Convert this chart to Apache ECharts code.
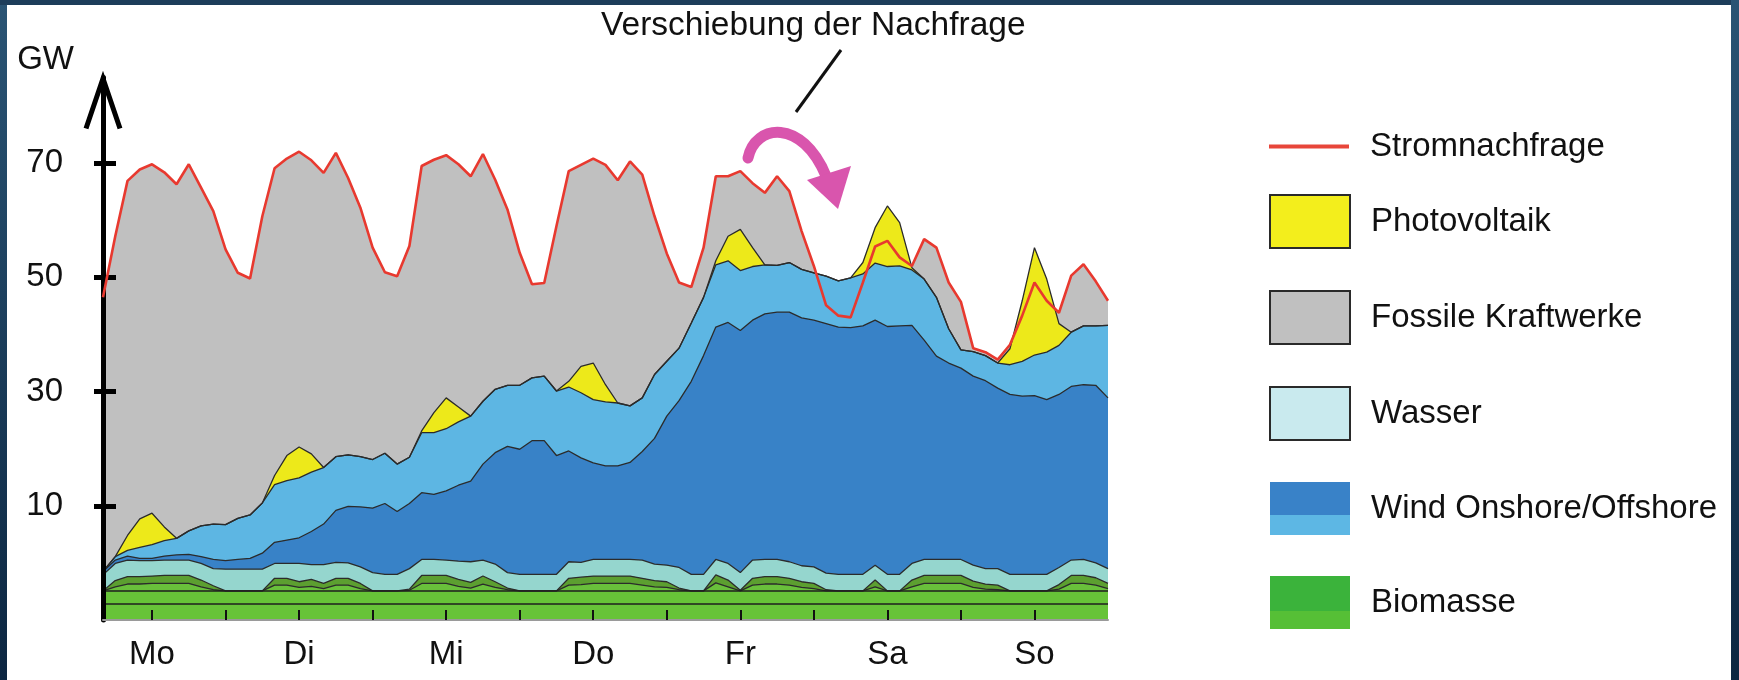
<!DOCTYPE html>
<html>
<head>
<meta charset="utf-8">
<script src="https://cdn.jsdelivr.net/npm/echarts@6/dist/echarts.min.js"></script>
<style>
html, body { margin: 0; padding: 0; background: #fff; }
#chart { width: 1739px; height: 680px; }
</style>
</head>
<body>
<div id="chart"></div>
<script>
// Stunden seit Montag 0 Uhr, 2-h-Raster
const hours = [4,6,8,10,12,14,16,18,20,22, 24,26,28,30,32,34,36,38,40,42,
  44,46,48,50,52,54,56,58,60,62, 64,66,68,70,72,74,76,78,80,82,
  84,86,88,90,92,94,96,98,100,102, 104,106,108,110,112,114,116,118,120,122,
  124,126,128,130,132,134,136,138,140,142, 144,146,148,150,152,154,156,158,160,162,
  164,166,168];
const days = ['Mo', 'Di', 'Mi', 'Do', 'Fr', 'Sa', 'So'];
const dayNoon = [12, 36, 60, 84, 108, 132, 156];
const halfDayTicks = [12,24,36,48,60,72,84,96,108,120,132,144,156];
const yTicks = [10, 30, 50, 70];

// Stromnachfrage (GW)
const demand = [46.5,57.2,66.9,68.9,69.8,68.4,66.3,69.8,65.7,61.6,
  54.9,50.8,49.8,60.7,69.1,70.8,72.0,70.5,68.3,71.8,
  67.4,62.2,55.2,50.9,50.2,55.5,69.5,70.6,71.4,69.8,
  67.7,71.6,67.1,61.9,54.3,48.8,49.0,59.0,68.6,69.7,
  70.8,69.7,67.0,70.3,68.0,60.7,54.2,49.1,48.3,55.2,
  67.7,67.7,68.6,66.5,64.8,67.7,65.1,58.1,52.0,45.1,
  43.3,43.0,49.1,55.4,56.4,53.5,52.0,56.7,55.2,49.1,
  45.7,37.6,36.9,35.6,38.2,43.3,49.1,45.9,43.8,50.3,
  52.3,49.3,45.9];

// Photovoltaik-Einspeisung (Dicke der gelben Schicht)
const pvOutput = [0,0,2.6,5.0,5.5,2.4,0,0,0,0,
  0,0,0,0,1.6,4.4,5.4,3.2,0,0,
  0,0,0,0,0,0,0.3,3.5,5.4,2.6,
  0,0,0,0,0,0,0,0,1.0,4.6,
  6.4,3.0,0,0,0,0,0,0,0,0,
  0.7,4.3,7.2,3.3,0,0,0,0,0,0,
  0,0,2.0,6.2,10.6,7.6,0.4,0,0,0,
  0,0,0,0,2.8,10.6,18.8,12.8,3.8,0,
  0,0,0];

// Oberkanten der gestapelten Schichten (GW)
const offshoreTop = [-1.5,1.1,2.2,2.7,3.2,3.9,4.3,5.6,6.5,6.8,
  6.7,7.8,8.4,10.5,13.7,14.4,14.9,15.9,16.7,18.6,
  18.9,18.6,18.1,19.2,17.3,18.5,22.8,22.8,23.5,24.7,
  25.7,28.3,30.4,31.1,31.1,32.4,32.7,30.1,30.8,29.8,
  28.6,28.2,28.0,27.5,28.9,33.0,35.3,37.6,42.0,46.5,
  52.2,52.9,51.2,51.9,52.2,52.1,52.6,51.4,50.8,50.2,
  49.4,49.9,50.6,52.5,51.9,52.0,51.3,49.7,46.5,41.0,
  37.3,37.0,36.3,35.0,34.7,35.3,36.4,36.9,38.1,40.4,
  41.5,41.5,41.6];

const onshoreTop = [-1.5,0.5,1.2,0.8,0.8,1.2,1.4,1.5,1.1,0.6,
  0.4,0.6,0.8,1.7,3.6,4.0,4.4,5.5,6.8,9.2,
  9.9,9.8,9.6,10.4,9.0,10.4,12.3,12.0,12.6,13.6,
  14.3,17.3,19.3,20.4,19.9,21.4,21.4,18.8,19.6,18.4,
  17.5,17.0,17.0,17.6,19.5,21.8,25.7,28.4,31.8,36.3,
  41.3,42.1,40.7,42.5,43.6,43.9,43.9,42.9,42.5,41.9,
  41.3,41.2,41.5,42.5,41.4,41.5,41.6,39.0,36.2,35.0,
  34.1,32.7,31.9,30.6,29.5,29.2,29.3,28.6,29.5,30.9,
  31.2,31.1,28.9];

const wasserTop = [-2.1,-0.1,0.5,0.4,0.4,0.5,0.5,0.5,-0.1,-1.0,
  -1.1,-1.1,-1.1,-1.1,-0.1,-0.1,-0.1,-0.3,-0.3,0.1,
  0.0,-0.7,-1.7,-2.0,-2.0,-1.0,0.6,0.6,0.5,0.3,
  0.2,0.5,-0.2,-1.7,-2.0,-2.0,-2.0,-2.0,0.2,0.1,
  0.6,0.6,0.6,0.6,0.5,-0.2,-0.4,-0.8,-2.0,-2.0,
  0.6,-0.1,-1.7,0.5,0.6,0.6,0.2,-0.5,-0.7,-1.8,
  -2.0,-2.0,-2.0,-0.4,-2.0,-2.0,-0.1,0.6,0.6,0.6,
  0.6,-0.4,-1.0,-1.0,-2.0,-2.0,-2.0,-2.0,-0.8,0.5,
  0.6,0.0,-1.0];

const bioTop = [-4.9,-3.1,-2.4,-2.4,-2.3,-2.2,-2.2,-2.2,-3.0,-4.0,
  -4.9,-4.9,-4.9,-4.9,-2.7,-2.7,-3.3,-2.9,-3.6,-2.7,
  -2.7,-3.6,-4.9,-4.9,-4.9,-4.6,-2.2,-2.2,-2.2,-2.9,
  -3.4,-2.3,-3.3,-4.4,-4.9,-4.9,-4.9,-4.9,-2.7,-2.5,
  -2.3,-2.3,-2.3,-2.3,-2.7,-3.1,-3.3,-4.4,-4.9,-4.9,
  -2.1,-3.0,-4.8,-2.7,-2.4,-2.4,-2.7,-3.3,-3.6,-4.7,
  -4.9,-4.9,-4.9,-3.0,-4.9,-4.9,-3.0,-2.2,-2.2,-2.2,
  -2.2,-3.2,-3.7,-3.9,-4.9,-4.9,-4.9,-4.9,-3.8,-2.2,
  -2.2,-2.6,-3.6];

const bioInnerTop = [-4.9,-4.2,-3.7,-3.7,-3.6,-3.6,-3.6,-3.6,-4.2,-4.7,
  -4.9,-4.9,-4.9,-4.9,-3.9,-3.9,-4.3,-4.1,-4.5,-3.9,
  -3.9,-4.5,-4.9,-4.9,-4.9,-4.8,-3.6,-3.6,-3.6,-4.1,
  -4.4,-3.7,-4.3,-4.7,-4.9,-4.9,-4.9,-4.9,-3.9,-3.8,
  -3.6,-3.6,-3.6,-3.6,-3.9,-4.2,-4.3,-4.7,-4.9,-4.9,
  -3.5,-4.2,-4.9,-3.9,-3.7,-3.7,-3.9,-4.3,-4.5,-4.9,
  -4.9,-4.9,-4.9,-4.2,-4.9,-4.9,-4.2,-3.6,-3.6,-3.6,
  -3.6,-4.3,-4.6,-4.7,-4.9,-4.9,-4.9,-4.9,-4.6,-3.6,
  -3.6,-3.9,-4.5];

// Biomasse-Grundlast: zwei flache Baender
const bioBandTop = -4.9;
const bioBandMid = -7.2;

const font = '"Liberation Sans", Arial, sans-serif';
const ink = '#111';

const pvTop = offshoreTop.map((v, i) => v + pvOutput[i]);

function layer(name, values, fill, outline) {
  return {
    name: name,
    type: 'line',
    data: hours.map((h, i) => [h, values[i]]),
    symbol: 'none',
    silent: true,
    color: fill,
    lineStyle: outline ? { color: '#2b2b2b', width: 1.3 } : { width: 0 },
    areaStyle: { color: fill, opacity: 1, origin: 'start' }
  };
}

function band(value) {
  return {
    name: 'Biomasse',
    type: 'line',
    data: [[hours[0], value], [hours[hours.length - 1], value]],
    symbol: 'none',
    silent: true,
    color: '#67c338',
    lineStyle: { color: '#1e1e1e', width: 1.5 },
    areaStyle: { color: '#67c338', opacity: 1, origin: 'start' }
  };
}

const frameFill = {
  type: 'linear', x: 0, y: 0, x2: 0, y2: 1,
  colorStops: [{ offset: 0, color: '#2a5474' }, { offset: 1, color: '#0c2641' }]
};

const chart = echarts.init(document.getElementById('chart'));
chart.setOption({
  animation: false,
  backgroundColor: '#fff',
  title: {
    text: 'Verschiebung der Nachfrage',
    left: 601, top: 9, padding: 0,
    textStyle: { fontSize: 33.5, fontWeight: 'normal', color: ink, fontFamily: font }
  },
  grid: { left: 103, right: 631, top: 77.5, bottom: 60 },
  legend: [{
    left: 1269, top: 130, padding: 0,
    itemWidth: 80, itemHeight: 4,
    selectedMode: false,
    textStyle: { fontSize: 33, color: ink, fontFamily: font, padding: [0, 0, 0, 16] },
    data: [{ name: 'Stromnachfrage', icon: 'rect', itemStyle: { color: '#e8463a', borderWidth: 0 } }]
  }, {
    left: 1269, top: 194, padding: 0, orient: 'vertical',
    itemWidth: 80, itemHeight: 53, itemGap: 41,
    selectedMode: false,
    textStyle: { fontSize: 33, color: ink, fontFamily: font, padding: [0, 0, 0, 16] },
    data: [
      { name: 'Photovoltaik', icon: 'rect', itemStyle: { color: '#f3ee1c', borderColor: '#2a2a2a', borderWidth: 2 } },
      { name: 'Fossile Kraftwerke', icon: 'rect', itemStyle: { color: '#c0c0c0', borderColor: '#2a2a2a', borderWidth: 2 } },
      { name: 'Wasser', icon: 'rect', itemStyle: { color: '#c9eaee', borderColor: '#2a2a2a', borderWidth: 2 } },
      { name: 'Wind Onshore/Offshore', icon: 'rect', itemStyle: {
        borderWidth: 0,
        color: { type: 'linear', x: 0, y: 0, x2: 0, y2: 1, colorStops: [
          { offset: 0, color: '#3982c8' }, { offset: 0.62, color: '#3982c8' },
          { offset: 0.62, color: '#5db7e4' }, { offset: 1, color: '#5db7e4' }] } } },
      { name: 'Biomasse', icon: 'rect', itemStyle: {
        borderWidth: 0,
        color: { type: 'linear', x: 0, y: 0, x2: 0, y2: 1, colorStops: [
          { offset: 0, color: '#3bb33b' }, { offset: 0.66, color: '#3bb33b' },
          { offset: 0.66, color: '#56bf36' }, { offset: 1, color: '#56bf36' }] } } }
    ]
  }],
  xAxis: {
    type: 'value', min: 4, max: 168, z: 4,
    axisLine: { show: true, onZero: false, lineStyle: { color: '#9a9a9a', width: 2 } },
    axisTick: { show: true, inside: true, length: 10, customValues: halfDayTicks,
      lineStyle: { color: ink, width: 2 } },
    axisLabel: { customValues: dayNoon, margin: 18, fontSize: 33, color: ink, fontFamily: font,
      formatter: function (v) { return days[dayNoon.indexOf(Number(v))]; } },
    splitLine: { show: false }
  },
  yAxis: [{
    type: 'value', min: -10, max: 85, z: 4,
    name: 'GW', nameLocation: 'end', nameGap: 1,
    nameTextStyle: { fontSize: 33, color: ink, fontFamily: font, align: 'right',
      verticalAlign: 'bottom', padding: [0, 29, 0, 0] },
    axisLine: { show: true, onZero: false, lineStyle: { color: '#000', width: 5 } },
    axisTick: { show: true, length: 9, customValues: yTicks, lineStyle: { color: '#000', width: 5 } },
    axisLabel: { customValues: yTicks, margin: 40, fontSize: 33, color: ink, fontFamily: font },
    splitLine: { show: false }
  }, {
    // nach innen zeigende Haelfte der Striche
    type: 'value', min: -10, max: 85, position: 'left', z: 4,
    axisLine: { show: false },
    axisTick: { show: true, inside: true, length: 13, customValues: yTicks,
      lineStyle: { color: '#000', width: 5 } },
    axisLabel: { show: false },
    splitLine: { show: false }
  }],
  series: [
    layer('Fossile Kraftwerke', demand, '#c0c0c0', false),
    layer('Photovoltaik', pvTop, '#ede91a', true),
    layer('Wind Onshore/Offshore', offshoreTop, '#5db6e3', true),
    layer('Wind Onshore/Offshore', onshoreTop, '#3882c7', true),
    layer('Wasser', wasserTop, '#95d6ce', true),
    layer('Biomasse', bioTop, '#5c9f30', true),
    layer('Biomasse', bioInnerTop, '#69c03b', true),
    band(bioBandTop),
    band(bioBandMid),
    {
      name: 'Stromnachfrage',
      type: 'line',
      data: hours.map((h, i) => [h, demand[i]]),
      symbol: 'none',
      silent: true,
      z: 5,
      color: '#e8392f',
      lineStyle: { color: '#e8392f', width: 2.6 }
    }
  ],
  graphic: { elements: [
    // Hinweislinie zur Beschriftung
    { type: 'line', z: 10, shape: { x1: 841, y1: 50, x2: 796, y2: 112 },
      style: { stroke: '#111', lineWidth: 3 } },
    // Pfeil "Verschiebung der Nachfrage"
    { type: 'bezierCurve', z: 10,
      shape: { x1: 748, y1: 158, cpx1: 755, cpy1: 124, cpx2: 802, cpy2: 118, x2: 826, y2: 176 },
      style: { stroke: '#d955ad', lineWidth: 11, lineCap: 'round', fill: null } },
    { type: 'polygon', z: 10,
      shape: { points: [[807, 180], [851, 166], [838, 209]] },
      style: { fill: '#d955ad' } },
    // dunkler Rahmen
    { type: 'rect', z: 100, shape: { x: 0, y: 0, width: 7, height: 680 }, style: { fill: frameFill } },
    { type: 'rect', z: 100, shape: { x: 0, y: 0, width: 1739, height: 5 }, style: { fill: '#1d3d5a' } },
    { type: 'rect', z: 100, shape: { x: 1731, y: 0, width: 8, height: 680 }, style: { fill: frameFill } }
  ] }
});

// offene Pfeilspitze oben an der y-Achse
const tip = chart.convertToPixel({ gridIndex: 0 }, [hours[0], 85]);
chart.setOption({
  graphic: { elements: [{
    id: 'yArrow', type: 'polyline', z: 10,
    shape: { points: [[tip[0] - 17, tip[1] + 51], [tip[0], tip[1] + 1], [tip[0] + 17, tip[1] + 51]] },
    style: { stroke: '#000', lineWidth: 5, fill: null, lineJoin: 'miter' }
  }] }
});
</script>
</body>
</html>
